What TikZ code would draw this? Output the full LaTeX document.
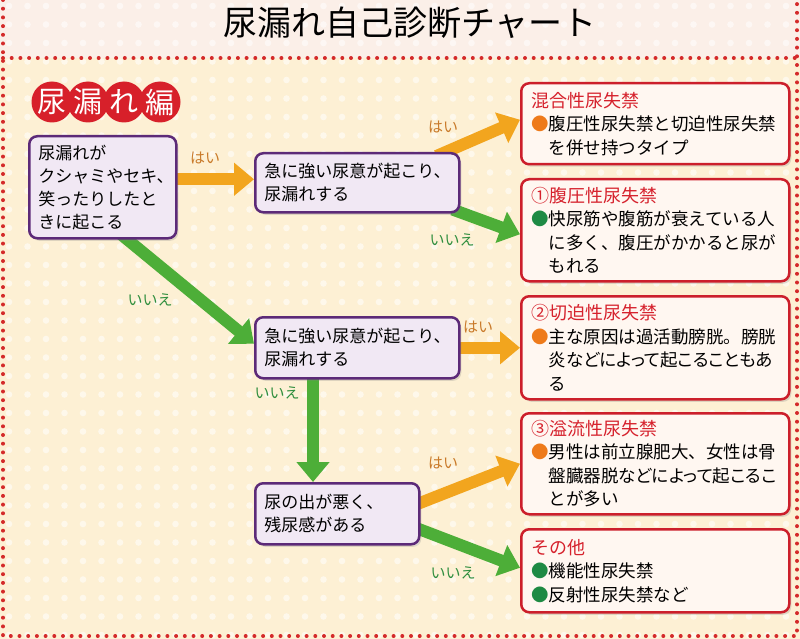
\documentclass[tikz,border=0pt]{standalone}
\usepackage{fontspec}
\setmainfont{Noto Sans CJK JP}
\newfontfamily\propfont[RawFeature=+palt]{Noto Sans CJK JP}
\usetikzlibrary{arrows.meta,calc,shadows}
\definecolor{hdrbg}{HTML}{FBEFE8}
\definecolor{mainbg}{HTML}{FDF0D4}
\definecolor{dotred}{HTML}{D42A2A}
\definecolor{qborder}{HTML}{5C2A78}
\definecolor{qfill}{HTML}{F1E8F4}
\definecolor{rborder}{HTML}{CC1F2B}
\definecolor{rfill}{HTML}{FFF7F1}
\definecolor{rtitle}{HTML}{D6222D}
\definecolor{harrow}{HTML}{F2A51E}
\definecolor{iarrow}{HTML}{4DAE38}
\definecolor{haitext}{HTML}{C97A2A}
\definecolor{iietext}{HTML}{2F8E3E}
\definecolor{bulor}{HTML}{EE7A1A}
\definecolor{bulgr}{HTML}{1E8A44}
\definecolor{badgered}{HTML}{D7202A}
\pgfdeclarelayer{bg}
\pgfdeclarelayer{arr}
\pgfsetlayers{bg,arr,main}
\newcommand{\bo}{\textcolor{bulor}{●}}
\newcommand{\bg}{\textcolor{bulgr}{●}}
\newcommand{\rt}[1]{\textcolor{rtitle}{\fontsize{18}{23.5}\selectfont #1}}
\newcommand{\pl}[1]{{\propfont #1}}
\tikzset{
  qbox/.style={draw=qborder, fill=qfill, line width=2.5pt, rounded corners=8pt,
    anchor=north west, align=left, inner xsep=9pt, inner ysep=3pt,
    font=\fontsize{17}{23}\selectfont,
    drop shadow={shadow xshift=2pt, shadow yshift=-2.5pt, opacity=0.25}},
  rbox/.style={draw=rborder, fill=rfill, line width=2.5pt, rounded corners=8pt,
    anchor=north west, align=left, inner xsep=10pt, inner ysep=3pt,
    minimum width=268pt, text width=248pt,
    font=\fontsize{17.5}{23.5}\selectfont,
    drop shadow={shadow xshift=2pt, shadow yshift=-2.5pt, opacity=0.25}},
  oarr/.style={draw=harrow, line width=12pt, -{Triangle[width=32pt,length=20pt]}},
  garr/.style={draw=iarrow, line width=12pt, -{Triangle[width=32pt,length=20pt]}},
  hai/.style={text=haitext, font=\fontsize{15}{15}\selectfont, inner sep=0pt},
  iie/.style={text=iietext, font=\fontsize{15}{15}\selectfont, inner sep=0pt},
  badge/.style={circle, fill=badgered, minimum size=41pt, inner sep=0pt, text=white,
    font=\fontsize{29}{29}\selectfont},
  redline/.style={draw=dotred, line width=4pt, line cap=round, dash pattern=on 0pt off 8.7pt}
}
\begin{document}
\begin{tikzpicture}[x=1pt,y=-1pt]
\useasboundingbox (0,0) rectangle (800,639);
\begin{pgfonlayer}{bg}
  \fill[hdrbg] (0,0) rectangle (800,58);
  \fill[mainbg] (0,58) rectangle (800,639);
  \foreach \i in {0,...,43} {
    \foreach \j in {0,...,34} {
      \fill[white, opacity=0.55] (\i*18.5+9, \j*18.5+6) circle (3.3pt);
    }
  }
  \draw[redline] (3,0) -- (3,636) -- (797,636) -- (797,0);
  \draw[redline] (3,58) -- (797,58);
\end{pgfonlayer}

\node (title) at (410,23) {\fontsize{34}{34}\selectfont 尿漏れ自己診断チャート};

\node[badge] (b1) at (52,102) {尿};
\node[badge] (b2) at (88,102) {漏};
\node[badge] (b3) at (124,102) {れ};
\node[badge] (b4) at (160,102) {編};

\node[qbox, minimum width=147pt, minimum height=102pt, text width=129pt] (A) at (28,135)
  {尿漏れが\\クシャミやセキ、\\笑ったりしたと\\きに起こる};
\node[qbox, minimum width=204pt, minimum height=59pt, text width=186pt] (B) at (254,152)
  {急に強い尿意が起こり、\\尿漏れする};
\node[qbox, minimum width=204pt, minimum height=61pt, text width=186pt] (C) at (254,316)
  {急に強い尿意が起こり、\\尿漏れする};
\node[qbox, minimum width=164pt, minimum height=61pt, text width=146pt] (D) at (254,482)
  {尿の出が悪く、\\残尿感がある};

\node[rbox, minimum height=81pt] (R1) at (520,82)
  {\rt{混合性尿失禁}\\\bo 腹圧性尿失禁と切迫性尿失禁\\\hspace*{1em}を併せ持つタイプ};
\node[rbox, minimum height=102pt] (R2) at (520,178)
  {\rt{①腹圧性尿失禁}\\\bg 快尿筋や腹筋が衰えている人\\\hspace*{1em}に多く、腹圧がかかると尿が\\\hspace*{1em}もれる};
\node[rbox, minimum height=103pt] (R3) at (520,295)
  {\rt{②切迫性尿失禁}\\\bo 主な原因は過活動膀胱。膀胱\\\hspace*{1em}\pl{炎などによって起こることもあ}\\\hspace*{1em}る};
\node[rbox, minimum height=101pt] (R4) at (520,412)
  {\rt{③溢流性尿失禁}\\\bo 男性は前立腺肥大、女性は骨\\\hspace*{1em}\pl{盤臓器脱などによって起こるこ}\\\hspace*{1em}とが多い};
\node[rbox, minimum height=83pt] (R5) at (520,528)
  {\rt{その他}\\\bg 機能性尿失禁\\\bg 反射性尿失禁など};

\begin{pgfonlayer}{arr}
  \draw[oarr] ($(A.east)+(-5,-8)$) -- ($(B.west)+(0,-3.5)$);
  \draw[oarr] ($(B.north east)+(-24,4)$) -- ($(R1.west)+(0,-4)$);
  \draw[garr] ($(B.south east)+(-8,-4)$) -- ($(R2.west)+(0,4)$);
  \draw[garr] ($(A.south west)+(92,-6)$) -- ($(C.west)+(0,-4)$);
  \draw[oarr] ($(C.east)+(-5,0)$) -- (R3.west);
  \draw[garr] ($(C.south west)+(59,-5)$) -- ($(D.north west)+(59,0)$);
  \draw[oarr] ($(D.east)+(-5,-9)$) -- (R4.west);
  \draw[garr] ($(D.east)+(-5,14)$) -- ($(R5.west)+(0,-3)$);
\end{pgfonlayer}

\node[hai] (l1) at (205,158) {はい};
\node[hai] (l2) at (443,127) {はい};
\node[iie] (l3) at (452,240) {いいえ};
\node[iie] (l4) at (150,300) {いいえ};
\node[hai] (l5) at (478,327) {はい};
\node[iie] (l6) at (277,393) {いいえ};
\node[hai] (l7) at (443,463) {はい};
\node[iie] (l8) at (453,573) {いいえ};
\end{tikzpicture}
\end{document}
